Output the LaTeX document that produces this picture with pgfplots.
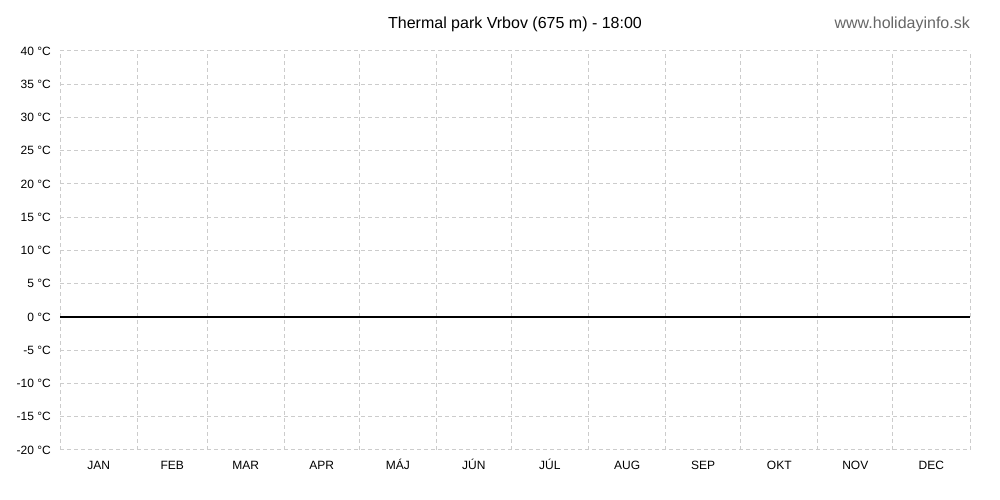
\documentclass[border=0pt]{standalone}
\usepackage{fontspec}
\setmainfont{Liberation Sans}
\usepackage{pgfplots}
\pgfplotsset{compat=1.18}
\definecolor{gridgray}{RGB}{204,204,204}
\definecolor{webgray}{RGB}{102,102,102}
\begin{document}
\begin{tikzpicture}[x=1pt,y=1pt]
\path[use as bounding box] (0,0) rectangle (1000,500);
\begin{axis}[
  at={(60pt,50pt)}, anchor=south west,
  scale only axis, width=910pt, height=399pt,
  xmin=0, xmax=365, ymin=-20, ymax=40,
  axis line style={draw=none},
  major tick length=0pt,
  tick style={draw=none},
  xtick={0,31,59,90,120,151,181,212,243,273,304,334,365},
  xticklabels={},
  extra x ticks={15.5,45,74.5,105,135.5,166,196.5,227.5,258,288.5,319,349.5},
  extra x tick labels={JAN,FEB,MAR,APR,MÁJ,JÚN,JÚL,AUG,SEP,OKT,NOV,DEC},
  extra x tick style={grid=none},
  ytick={-20,-15,...,40},
  yticklabels={{-20 °C},{-15 °C},{-10 °C},{-5 °C},{0 °C},{5 °C},{10 °C},{15 °C},{20 °C},{25 °C},{30 °C},{35 °C},{40 °C}},
  xmajorgrids, ymajorgrids,
  grid style={gridgray, line width=1pt, dash pattern=on 4pt off 3pt},
  yticklabel style={font=\fontsize{12}{14}\selectfont, inner sep=0pt, xshift=-9pt},
  xticklabel style={font=\fontsize{12}{14}\selectfont, inner sep=0pt, anchor=north, text height=8.6pt, text depth=0pt, yshift=-11pt},
  clip=false,
]
\addplot[black, line width=2pt] coordinates {(0,0) (365,0)};
\end{axis}
\node[font=\fontsize{16}{19}\selectfont] at (515,476) {Thermal park Vrbov (675 m) - 18:00};
\node[anchor=east, inner sep=0pt, text=webgray, font=\fontsize{16}{19}\selectfont] at (970,476) {www.holidayinfo.sk};
\end{tikzpicture}
\end{document}
